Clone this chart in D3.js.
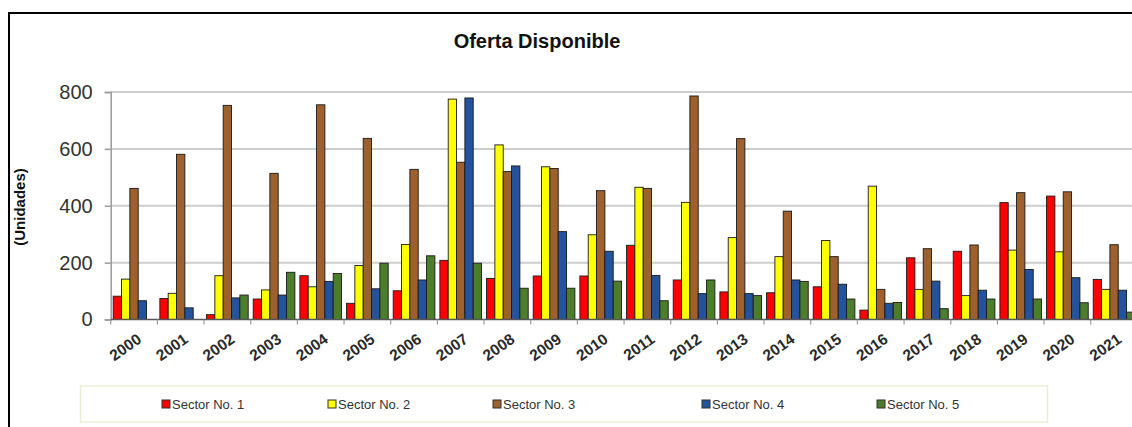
<!DOCTYPE html>
<html>
<head>
<meta charset="utf-8">
<script src="https://cdn.jsdelivr.net/npm/d3@7"></script>
<style>
  html, body { margin: 0; padding: 0; background: #fff; }
  svg { display: block; font-family: "Liberation Sans", Arial, sans-serif; }
</style>
</head>
<body>
<svg id="chart" width="1132" height="427"></svg>
<script>
// Years on the category axis
const years = ["2000","2001","2002","2003","2004","2005","2006","2007","2008","2009","2010",
               "2011","2012","2013","2014","2015","2016","2017","2018","2019","2020","2021"];

// Units available per sector and year
const sector1 = [82, 74, 17, 72, 154, 57, 101, 208, 144, 153, 153, 261, 139, 97, 94, 115, 33, 217, 240, 411, 434, 141];
const sector2 = [142, 92, 154, 104, 115, 190, 264, 775, 614, 537, 298, 465, 412, 288, 221, 278, 469, 106, 84, 244, 238, 106];
const sector3 = [461, 581, 753, 514, 755, 637, 528, 553, 520, 531, 453, 461, 786, 636, 381, 221, 106, 249, 262, 446, 449, 263];
const sector4 = [66, 41, 76, 86, 134, 108, 139, 779, 540, 309, 240, 155, 91, 91, 139, 124, 57, 135, 103, 176, 147, 103];
const sector5 = [0, 0, 86, 166, 162, 198, 224, 198, 110, 110, 135, 66, 139, 84, 134, 72, 60, 38, 72, 72, 59, 26];

const seriesNames = ["Sector No. 1", "Sector No. 2", "Sector No. 3", "Sector No. 4", "Sector No. 5"];
const yTicks = [0, 200, 400, 600, 800];

const series = [sector1, sector2, sector3, sector4, sector5];
const colors = ["#ff0000", "#ffff00", "#9e602d", "#23539c", "#4b7d2b"];

const svg = d3.select("#chart");

// Outer frame (top and left edges visible)
svg.append("line").attr("x1", 9).attr("x2", 1132).attr("y1", 13).attr("y2", 13)
  .attr("stroke", "#000").attr("stroke-width", 2);
svg.append("line").attr("x1", 9).attr("x2", 9).attr("y1", 12).attr("y2", 427)
  .attr("stroke", "#000").attr("stroke-width", 2);

// Plot area
const plotLeft = 110.7, plotRight = 1137.4, plotTop = 92, plotBottom = 319.5;

const pad = 0.107;
const x0 = d3.scaleBand().domain(years).range([plotLeft, plotRight])
  .paddingInner(pad).paddingOuter(pad / 2);
const x1 = d3.scaleBand().domain(d3.range(series.length)).range([0, x0.bandwidth()]).padding(0);
const y = d3.scaleLinear().domain([0, 800]).range([plotBottom, plotTop]);

// Horizontal gridlines
svg.append("g").selectAll("line").data(yTicks.filter(t => t > 0)).join("line")
  .attr("x1", plotLeft).attr("x2", plotRight)
  .attr("y1", d => y(d)).attr("y2", d => y(d))
  .attr("stroke", "#cdcdcd").attr("stroke-width", 2);

// Y axis
const yAxis = d3.axisLeft(y).tickValues(yTicks).tickSize(6).tickPadding(12);
const gy = svg.append("g").attr("transform", `translate(${plotLeft},0)`).call(yAxis);
gy.select(".domain").attr("stroke", "#9a9a9a").attr("stroke-width", 1.5);
gy.selectAll(".tick line").attr("stroke", "#9a9a9a").attr("stroke-width", 1.5);
gy.selectAll(".tick text").attr("font-size", 20).attr("fill", "#333")
  .attr("font-family", "'Liberation Sans', Arial, sans-serif");

// Bars
const groups = svg.append("g").selectAll("g").data(years).join("g")
  .attr("transform", d => `translate(${x0(d)},0)`);
groups.selectAll("rect")
  .data((d, i) => series.map((s, k) => ({ k, v: s[i] })).filter(e => e.v > 0))
  .join("rect")
  .attr("x", d => x1(d.k))
  .attr("width", x1.bandwidth())
  .attr("y", d => y(d.v))
  .attr("height", d => y(0) - y(d.v))
  .attr("fill", d => colors[d.k])
  .attr("stroke", "#1a1a1a").attr("stroke-width", 0.9);

// X axis with ticks at the category boundaries
const step = x0.step();
const boundaries = years.map(d => x0(d) - step * pad / 2);
svg.append("line").attr("x1", plotLeft).attr("x2", plotRight)
  .attr("y1", plotBottom).attr("y2", plotBottom)
  .attr("stroke", "#555").attr("stroke-width", 1.5);
svg.append("g").selectAll("line").data(boundaries).join("line")
  .attr("x1", d => d).attr("x2", d => d)
  .attr("y1", plotBottom).attr("y2", plotBottom + 5)
  .attr("stroke", "#9a9a9a").attr("stroke-width", 1.2);

svg.append("g").selectAll("text").data(years).join("text")
  .attr("transform", d => `translate(${x0(d) + x0.bandwidth() / 2 + 2},${plotBottom + 13}) rotate(-35)`)
  .attr("text-anchor", "end")
  .attr("dy", "0.72em")
  .attr("font-size", 15.5)
  .attr("font-weight", "bold")
  .attr("fill", "#2a2a2a")
  .text(d => d);

// Title
svg.append("text").attr("x", 537).attr("y", 48)
  .attr("text-anchor", "middle").attr("font-size", 20).attr("font-weight", "bold")
  .attr("fill", "#111").text("Oferta Disponible");

// Y axis title
svg.append("text")
  .attr("transform", "translate(25,207) rotate(-90)")
  .attr("text-anchor", "middle").attr("font-size", 15).attr("font-weight", "bold")
  .attr("fill", "#111").text("(Unidades)");

// Legend
const legendX = [162, 328, 493, 702, 877];
svg.append("rect").attr("x", 80.5).attr("y", 386).attr("width", 967).attr("height", 36)
  .attr("fill", "#fff").attr("stroke", "#e7efd2").attr("stroke-width", 1.5);
const items = svg.append("g").selectAll("g").data(seriesNames).join("g")
  .attr("transform", (d, i) => `translate(${legendX[i]},404)`);
items.append("rect").attr("x", 0).attr("y", -4).attr("width", 8).attr("height", 8)
  .attr("fill", (d, i) => colors[i]).attr("stroke", "#333").attr("stroke-width", 1);
items.append("text").attr("x", 10).attr("y", 0).attr("dy", "0.36em")
  .attr("font-size", 13).attr("fill", "#333").text(d => d);
</script>
</body>
</html>
